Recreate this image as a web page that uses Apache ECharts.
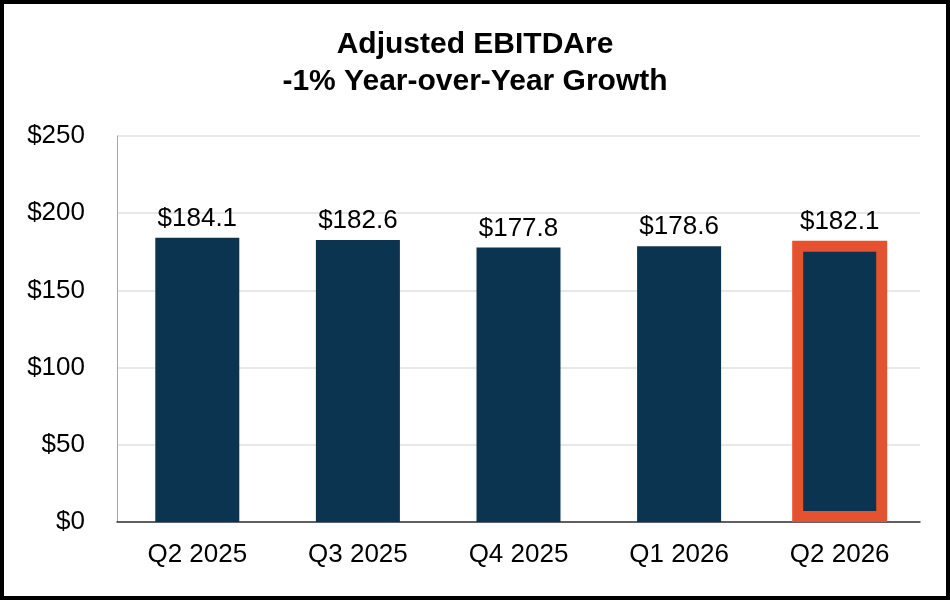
<!DOCTYPE html>
<html>
<head>
<meta charset="utf-8">
<script src="https://cdn.jsdelivr.net/npm/echarts@6/dist/echarts.min.js"></script>
<style>
html,body{margin:0;padding:0;background:#fff;}
#c{width:950px;height:600px;}
</style>
</head>
<body>
<div id="c"></div>
<script>
var categories = ['Q2 2025', 'Q3 2025', 'Q4 2025', 'Q1 2026', 'Q2 2026'];
var values = [184.1, 182.6, 177.8, 178.6, 182.1];
var highlighted = ['Q2 2026'];
var yTicks = [0, 50, 100, 150, 200, 250];

var FONT = '"Liberation Sans", Arial, sans-serif';
var NAVY = '#0a344f';
var ORANGE = '#e4522f';

function isHi(i) { return highlighted.indexOf(categories[i]) >= 0; }
var mainData = values.map(function (v, i) { return isHi(i) ? '-' : v; });
var hiData = values.map(function (v, i) { return isHi(i) ? v : '-'; });

var labelStyle = {
  show: true,
  position: 'top',
  distance: 6,
  fontFamily: FONT,
  fontSize: 26,
  color: '#000',
  formatter: function (p) { return '$' + Number(p.value).toFixed(1); }
};

var chart = echarts.init(document.getElementById('c'));
chart.setOption({
  animation: false,
  backgroundColor: '#fff',
  title: {
    text: 'Adjusted EBITDAre\n-1% Year-over-Year Growth',
    left: 'center',
    top: 21,
    textStyle: {
      fontFamily: FONT,
      fontWeight: 'bold',
      fontSize: 30,
      lineHeight: 37,
      color: '#000'
    }
  },
  graphic: [{
    type: 'rect',
    shape: { x: 2, y: 2, width: 946, height: 596 },
    style: { fill: 'none', stroke: '#000', lineWidth: 4 },
    z: 100
  }],
  grid: { left: 117, right: 30, top: 136, bottom: 78 },
  xAxis: [{
    type: 'category',
    data: categories,
    axisLine: { show: true, lineStyle: { color: '#333', width: 1.5 } },
    axisTick: { show: false },
    axisLabel: { fontFamily: FONT, fontSize: 26, color: '#000', margin: 20 }
  }, {
    type: 'category',
    data: categories,
    show: false
  }],
  yAxis: {
    type: 'value',
    min: yTicks[0],
    max: yTicks[yTicks.length - 1],
    interval: yTicks[1] - yTicks[0],
    axisLine: { show: true, lineStyle: { color: '#a6a6a6', width: 1 } },
    axisTick: { show: false },
    splitLine: { lineStyle: { color: '#e0e0e0', width: 1.5 } },
    axisLabel: {
      fontFamily: FONT, fontSize: 26, color: '#000', margin: 32,
      formatter: function (v) { return '$' + v; }
    }
  },
  series: [{
    type: 'bar',
    xAxisIndex: 0,
    data: mainData,
    barWidth: 84,
    itemStyle: { color: NAVY },
    label: labelStyle
  }, {
    type: 'bar',
    xAxisIndex: 1,
    data: hiData,
    barWidth: 95,
    itemStyle: { color: NAVY, borderColor: ORANGE, borderWidth: 11 },
    label: labelStyle
  }]
});
</script>
</body>
</html>
